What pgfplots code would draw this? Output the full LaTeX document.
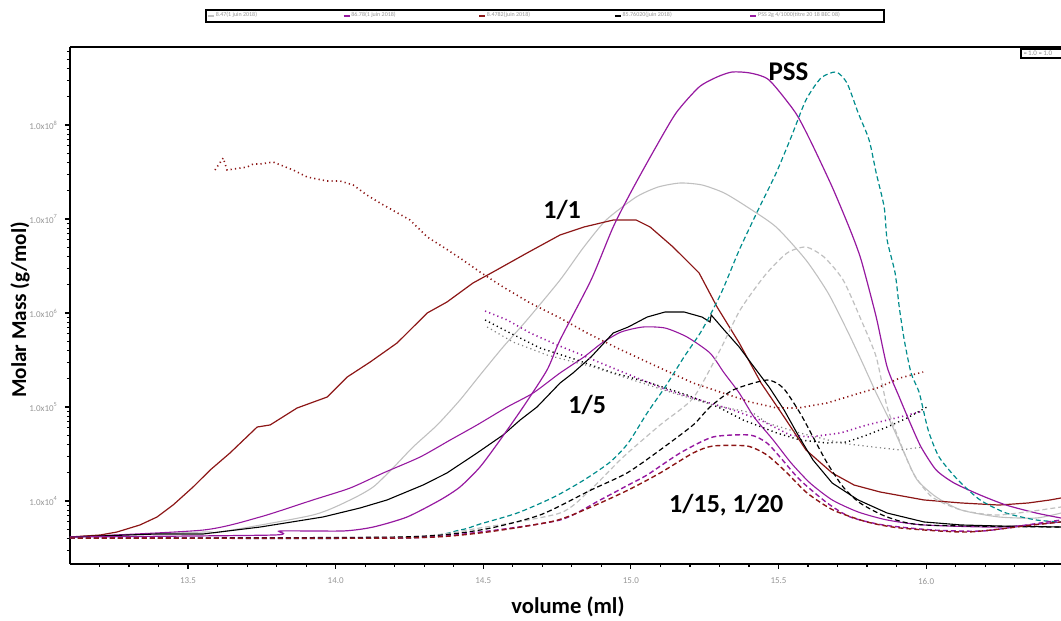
\documentclass[border=0pt]{standalone}
\usepackage{pgfplots}
\pgfplotsset{compat=1.18}
\usepackage{fontspec}
\setmainfont{Carlito}
\definecolor{dred}{RGB}{140,22,22}
\definecolor{ppl}{RGB}{150,25,160}
\definecolor{lgray}{RGB}{192,192,192}
\definecolor{teal2}{RGB}{0,140,140}
\definecolor{tickgray}{RGB}{150,150,150}
\begin{document}
\begin{tikzpicture}
\begin{axis}[
 scale only axis, width=495.5pt, height=258.5pt,
 xmin=13.1, xmax=16.457, ymin=3.33, ymax=8.83,
 axis x line*=box, axis y line*=left,
 xtick pos=left, ytick pos=left,
 tick align=outside,
 xtick={13.5,14,14.5,15,15.5,16},
 xticklabels={13.5,14.0,14.5,15.0,15.5,16.0},
 minor xtick={13.2,13.3,13.4,13.6,13.7,13.8,13.9,14.1,14.2,14.3,14.4,14.6,14.7,14.8,14.9,15.1,15.2,15.3,15.4,15.6,15.7,15.8,15.9,16.1,16.2,16.3,16.4},
 ytick={4,5,6,7,8},
 yticklabels={1.0x10\textsuperscript{4},1.0x10\textsuperscript{5},1.0x10\textsuperscript{6},1.0x10\textsuperscript{7},1.0x10\textsuperscript{8}},
 minor ytick={3.477,3.602,3.699,3.778,3.845,3.903,3.954,4.301,4.477,4.602,4.699,4.778,4.845,4.903,4.954,5.301,5.477,5.602,5.699,5.778,5.845,5.903,5.954,6.301,6.477,6.602,6.699,6.778,6.845,6.903,6.954,7.301,7.477,7.602,7.699,7.778,7.845,7.903,7.954,8.301,8.477,8.602,8.699,8.778},
 major tick length=2.5pt, minor tick length=1.5pt,
 every tick/.style={black, line width=0.6pt},
 axis line style={line width=0.8pt},
 tick label style={font=\fontsize{4.5}{5}\selectfont, text=tickgray},
 xticklabel style={yshift=-1pt},
 legend style={at={(0.4793,1.06)}, anchor=center, draw=black, line width=0.9pt,
   font=\fontsize{3}{3.5}\selectfont, text=tickgray, fill=white, inner sep=0.6pt,
   legend columns=5, /tikz/every even column/.append style={column sep=1pt},
   nodes={inner sep=0.4pt}},
 legend image code/.code={\draw[#1, line width=1pt, solid] (0pt,0pt) -- (3pt,0pt);},
]
\coordinate (SW) at (rel axis cs:0,0);
\coordinate (NE) at (rel axis cs:1,1);
\coordinate (NW) at (rel axis cs:0,1);

% gray solid
\addplot[lgray, line width=0.55pt, smooth, tension=0.4] coordinates {(13.100,3.617)(13.551,3.670)(13.608,3.670)(13.923,3.851)(14.049,4.011)(14.127,4.149)(14.194,4.351)(14.262,4.574)(14.344,4.809)(14.421,5.074)(14.489,5.340)(14.567,5.638)(14.648,5.926)(14.760,6.351)(14.838,6.691)(14.916,6.989)(15.018,7.234)(15.092,7.340)(15.167,7.383)(15.241,7.362)(15.316,7.277)(15.394,7.128)(15.492,6.915)(15.593,6.564)(15.668,6.213)(15.732,5.819)(15.780,5.500)(15.831,5.149)(15.881,4.830)(15.932,4.468)(15.970,4.223)(16.034,4.043)(16.119,3.904)(16.247,3.830)(16.373,3.819)(16.457,3.872)};
\addlegendentry{\makebox[62pt][l]{8.47(1 juin 2018)}}
% purple 1/5 solid
\addplot[ppl, line width=0.55pt, smooth, tension=0.4] coordinates {(13.100,3.617)(13.551,3.691)(13.744,3.830)(13.923,4.011)(14.049,4.138)(14.161,4.298)(14.286,4.468)(14.388,4.649)(14.479,4.809)(14.581,5.000)(14.669,5.149)(14.760,5.362)(14.841,5.532)(14.902,5.681)(14.967,5.798)(15.041,5.851)(15.116,5.840)(15.190,5.745)(15.268,5.574)(15.316,5.362)(15.367,5.149)(15.417,4.894)(15.482,4.649)(15.543,4.404)(15.607,4.191)(15.682,4.011)(15.770,3.883)(15.868,3.798)(15.993,3.745)(16.247,3.723)(16.457,3.777)};
\addlegendentry{\makebox[62pt][l]{86.78(1 juin 2018)}}
% dark red solid 1/1
\addplot[dred, line width=0.6pt] coordinates {(13.100,3.617)(13.202,3.638)(13.259,3.670)(13.337,3.745)(13.395,3.830)(13.449,3.957)(13.517,4.149)(13.575,4.330)(13.642,4.511)(13.734,4.787)(13.778,4.809)(13.869,4.989)(13.971,5.106)(14.039,5.319)(14.117,5.479)(14.208,5.681)(14.310,6.000)(14.377,6.117)(14.465,6.319)(14.533,6.436)(14.648,6.638)(14.760,6.830)(14.841,6.915)(14.940,6.989)(15.018,6.989)(15.065,6.915)(15.143,6.702)(15.231,6.426)(15.292,6.064)(15.367,5.681)(15.441,5.255)(15.519,4.894)(15.593,4.543)(15.682,4.298)(15.756,4.170)(15.844,4.096)(15.993,4.011)(16.119,3.979)(16.247,3.957)(16.346,3.979)(16.420,4.011)(16.457,4.032)};
\addlegendentry{\makebox[62pt][l]{8.4782(juin 2018)}}
% black solid
\addplot[black, line width=0.55pt] coordinates {(13.100,3.617)(13.395,3.649)(13.551,3.649)(13.744,3.723)(13.957,3.830)(14.083,3.926)(14.174,4.011)(14.296,4.170)(14.377,4.298)(14.479,4.511)(14.567,4.702)(14.625,4.862)(14.682,5.000)(14.760,5.255)(14.804,5.362)(14.865,5.532)(14.940,5.787)(14.991,5.851)(15.055,5.957)(15.116,6.011)(15.180,6.011)(15.241,5.957)(15.268,5.904)(15.272,5.979)(15.316,5.819)(15.367,5.638)(15.417,5.426)(15.468,5.213)(15.519,4.968)(15.570,4.681)(15.617,4.436)(15.682,4.191)(15.770,4.011)(15.868,3.872)(15.993,3.777)(16.119,3.745)(16.247,3.734)(16.457,3.723)};
\addlegendentry{\makebox[62pt][l]{85.76020(juin 2018)}}
% PSS purple solid
\addplot[ppl, line width=0.6pt, smooth, tension=0.4] coordinates {(13.100,3.617)(13.788,3.638)(13.812,3.681)(14.025,3.681)(14.127,3.723)(14.242,3.830)(14.354,4.011)(14.421,4.149)(14.489,4.362)(14.557,4.649)(14.635,5.000)(14.716,5.394)(14.760,5.713)(14.865,6.351)(14.940,6.915)(15.004,7.309)(15.079,7.734)(15.153,8.128)(15.231,8.404)(15.292,8.511)(15.343,8.564)(15.404,8.553)(15.468,8.479)(15.556,8.138)(15.607,7.840)(15.682,7.340)(15.743,6.883)(15.780,6.564)(15.831,5.957)(15.868,5.426)(15.909,5.106)(15.946,4.830)(15.983,4.574)(16.034,4.330)(16.095,4.191)(16.183,4.064)(16.271,3.957)(16.373,3.872)(16.457,3.819)};
\addlegendentry{\makebox[62pt][l]{PSS 2g 4/1000(titre 20 18 BEC 08)}}

% teal dashed
\addplot[teal2, line width=0.6pt, dash pattern=on 2.5pt off 1.5pt, smooth, tension=0.4, forget plot] coordinates {(13.100,3.606)(14.218,3.606)(14.421,3.691)(14.489,3.755)(14.615,3.872)(14.740,4.043)(14.841,4.223)(14.930,4.415)(14.991,4.617)(15.055,4.936)(15.116,5.213)(15.180,5.532)(15.241,5.819)(15.306,6.213)(15.367,6.670)(15.431,7.096)(15.492,7.489)(15.543,7.872)(15.593,8.266)(15.644,8.500)(15.695,8.564)(15.732,8.447)(15.770,8.128)(15.807,7.840)(15.831,7.489)(15.858,7.128)(15.868,6.777)(15.895,6.426)(15.909,6.064)(15.926,5.713)(15.949,5.362)(15.977,5.149)(16.007,4.755)(16.044,4.468)(16.108,4.223)(16.183,4.011)(16.271,3.872)(16.373,3.798)(16.457,3.777)};
% gray dashed
\addplot[lgray, line width=0.6pt, dash pattern=on 2.5pt off 1.5pt, smooth, tension=0.4, forget plot] coordinates {(13.100,3.606)(14.218,3.617)(14.489,3.713)(14.760,3.872)(14.862,4.117)(14.974,4.468)(15.099,4.809)(15.211,5.096)(15.302,5.606)(15.370,6.032)(15.455,6.404)(15.529,6.638)(15.593,6.702)(15.654,6.596)(15.719,6.351)(15.780,5.926)(15.831,5.532)(15.868,5.000)(15.909,4.649)(15.956,4.298)(16.020,4.043)(16.119,3.904)(16.247,3.851)(16.457,3.936)};
% black dashed
\addplot[black, line width=0.6pt, dash pattern=on 2.5pt off 1.5pt, smooth, tension=0.4, forget plot] coordinates {(13.100,3.606)(14.218,3.617)(14.489,3.691)(14.692,3.851)(14.865,4.117)(14.987,4.298)(15.099,4.543)(15.211,4.809)(15.268,5.000)(15.346,5.181)(15.461,5.287)(15.516,5.202)(15.573,4.936)(15.617,4.681)(15.665,4.404)(15.719,4.149)(15.776,3.979)(15.868,3.830)(15.993,3.745)(16.457,3.723)};
% purple dashed
\addplot[ppl, line width=0.7pt, dash pattern=on 2.5pt off 1.5pt, smooth, tension=0.4, forget plot] coordinates {(13.100,3.606)(14.218,3.606)(14.489,3.670)(14.760,3.798)(14.896,4.011)(14.991,4.170)(15.055,4.277)(15.167,4.511)(15.278,4.681)(15.404,4.702)(15.461,4.617)(15.505,4.468)(15.573,4.223)(15.665,3.979)(15.743,3.830)(15.854,3.745)(16.024,3.691)(16.193,3.681)(16.363,3.755)(16.457,3.798)};
% dark red dashed
\addplot[dred, line width=0.7pt, dash pattern=on 2.5pt off 1.5pt, smooth, tension=0.4, forget plot] coordinates {(13.100,3.606)(14.218,3.606)(14.489,3.660)(14.740,3.787)(14.865,3.936)(14.991,4.117)(15.099,4.298)(15.211,4.511)(15.278,4.585)(15.394,4.585)(15.461,4.489)(15.529,4.298)(15.597,4.085)(15.685,3.904)(15.800,3.777)(15.912,3.713)(16.139,3.670)(16.363,3.745)(16.457,3.777)};

% molar mass dotted curves
\addplot[dred, line width=0.8pt, dash pattern=on 0.6pt off 1.6pt, forget plot] coordinates {(13.591,7.521)(13.619,7.649)(13.632,7.521)(13.700,7.553)(13.720,7.585)(13.744,7.585)(13.788,7.606)(13.856,7.521)(13.903,7.447)(13.971,7.404)(14.015,7.404)(14.059,7.362)(14.106,7.255)(14.150,7.170)(14.252,6.989)(14.310,6.809)(14.364,6.702)(14.421,6.585)(14.489,6.436)(14.567,6.277)(14.659,6.106)(14.760,5.947)(14.852,5.787)(14.953,5.628)(15.099,5.415)(15.211,5.255)(15.312,5.149)(15.404,5.053)(15.495,4.989)(15.566,4.989)(15.665,5.043)(15.776,5.149)(15.834,5.202)(15.912,5.309)(15.990,5.372)};
\addplot[ppl, line width=0.8pt, dash pattern=on 0.6pt off 1.6pt, forget plot] coordinates {(14.506,6.021)(14.581,5.926)(14.659,5.787)(14.750,5.660)(14.818,5.574)(14.930,5.426)(15.021,5.309)(15.123,5.181)(15.234,5.074)(15.346,4.968)(15.438,4.862)(15.539,4.702)(15.607,4.681)(15.709,4.723)(15.800,4.809)(15.912,4.894)(15.990,4.957)};
\addplot[black, line width=0.7pt, dash pattern=on 0.6pt off 1.6pt, forget plot] coordinates {(14.506,5.926)(14.591,5.787)(14.692,5.628)(14.818,5.500)(14.930,5.372)(15.055,5.266)(15.190,5.128)(15.302,4.989)(15.380,4.862)(15.495,4.723)(15.573,4.649)(15.665,4.617)(15.732,4.628)(15.800,4.702)(15.868,4.787)(15.936,4.883)(16.003,5.000)};
\addplot[gray, line width=0.6pt, dash pattern=on 0.6pt off 1.6pt, forget plot] coordinates {(14.513,5.851)(14.601,5.691)(14.716,5.553)(14.872,5.426)(15.007,5.287)(15.143,5.149)(15.278,5.021)(15.414,4.936)(15.461,4.830)(15.573,4.723)(15.709,4.617)(15.821,4.574)(15.912,4.543)(15.990,4.574)};

\node[font=\bfseries\fontsize{13.5}{15}\selectfont] at (axis cs:15.534,8.564) {PSS};
\node[font=\bfseries\fontsize{13}{15}\selectfont] at (axis cs:14.767,7.096) {1/1};
\node[font=\bfseries\fontsize{13}{15}\selectfont] at (axis cs:14.852,5.021) {1/5};
\node[font=\bfseries\fontsize{13}{15}\selectfont] at (axis cs:15.323,3.957) {1/15, 1/20};
\end{axis}
\node[font=\bfseries\fontsize{11.3}{13}\selectfont, anchor=center] at ([xshift=249pt, yshift=-21.5pt]SW) {volume (ml)};
\node[font=\bfseries\fontsize{10.6}{12}\selectfont, anchor=center, xshift=-25pt, yshift=127pt, rotate=90] at (SW) {Molar Mass (g/mol)};
\node[draw=black, line width=0.8pt, fill=white, inner sep=1.2pt, minimum width=21pt, anchor=north west, align=left, font=\fontsize{3.5}{4}\selectfont, text=tickgray] at ([xshift=475pt, yshift=-0.5pt]NW) {\textcolor{black}{--}\,1.0 \textcolor{black}{--}\,1.0\hspace*{4pt}};
\pgfresetboundingbox
\path ([xshift=-35pt, yshift=-28.5pt]SW) rectangle ([yshift=23.5pt]NE);
\end{tikzpicture}
\end{document}
